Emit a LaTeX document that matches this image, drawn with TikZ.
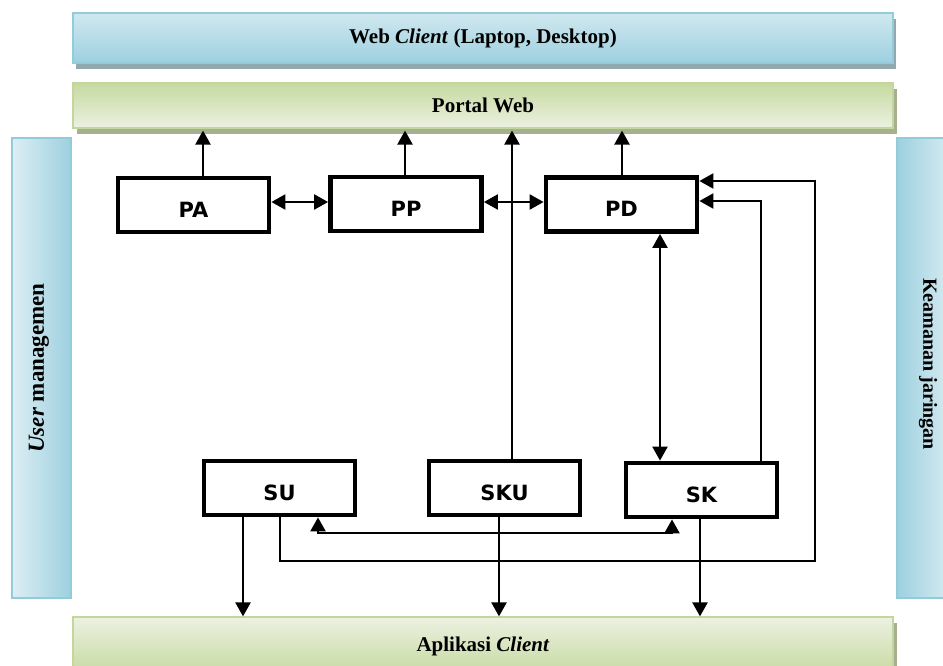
\documentclass[tikz,border=0pt]{standalone}
\usepackage{fontspec}
\setmainfont{Liberation Serif}
\newfontfamily\boxfont{DejaVu Sans}
\usetikzlibrary{arrows.meta,shadows,calc}

\definecolor{blueedge}{HTML}{93CBDB}
\definecolor{bluedark}{HTML}{9DD0DF}
\definecolor{bluelight}{HTML}{DDEEF4}
\definecolor{greenedge}{HTML}{C3D69B}
\definecolor{greendark}{HTML}{C6D9A0}
\definecolor{greenlight}{HTML}{ECF1E1}
\definecolor{shadowgray}{HTML}{A6B090}
\definecolor{shadowblue}{HTML}{92A8AF}

\tikzset{
  barfont/.style={font=\fontsize{21}{25}\selectfont\bfseries},
  bluebar/.style={draw=blueedge, line width=1.2pt, inner sep=0pt,
    top color=bluelight!80!bluedark, middle color=bluelight, bottom color=bluedark,
    drop shadow={shadow xshift=3pt, shadow yshift=-6pt, fill=shadowblue, opacity=1}},
  greenbar/.style={draw=greenedge, line width=1.2pt, inner sep=0pt,
    drop shadow={shadow xshift=4pt, shadow yshift=-6pt, fill=shadowgray, opacity=1}},
  sidebar/.style={draw=blueedge, line width=1.2pt, inner sep=0pt,
    minimum width=59pt, minimum height=460pt},
  procbox/.style={draw, line width=4.8pt, fill=white, minimum width=151pt,
    minimum height=54pt, inner sep=0pt, text height=24pt, text depth=0pt,
    font=\boxfont\fontsize{21}{24}\selectfont\bfseries},
  arr/.style={line width=2.3pt, -{Triangle[length=14pt,width=15pt]}},
  dbl/.style={line width=2.3pt, {Triangle[length=14pt,width=15pt]}-{Triangle[length=14pt,width=15pt]}},
}

\begin{document}
\begin{tikzpicture}[x=1pt,y=-1pt]
\useasboundingbox[fill=white] (0,0) rectangle (943,666);

% horizontal layers
\node[bluebar, minimum width=820pt, minimum height=50pt, barfont] (web) at (483,38)
  {Web \textit{Client} (Laptop, Desktop)};
\node[greenbar, top color=greendark, bottom color=greenlight,
  minimum width=820pt, minimum height=45pt, barfont] (portal) at (483,105.5)
  {Portal Web};
\node[greenbar, top color=greenlight, bottom color=greendark,
  minimum width=820pt, minimum height=58pt, barfont] (app) at (483,646)
  {Aplikasi \textit{Client}};

% vertical layers
\node[sidebar, left color=bluelight, right color=bluedark] (user) at (41.5,368) {};
\node[font=\fontsize{23}{27}\selectfont\bfseries, rotate=90] (userlbl) at (39,368)
  {\textit{User} managemen};
\node[sidebar, left color=bluedark, right color=bluelight] (sec) at (926.5,368) {};
\node[font=\fontsize{20}{24}\selectfont\bfseries, rotate=-90] (seclbl) at (928,364)
  {Keamanan jaringan};

% modules
\node[procbox] (PA)  at (193.5,205) {PA};
\node[procbox] (PP)  at (406,204)   {PP};
\node[procbox] (PD)  at (621.5,204.5) {PD};
\node[procbox] (SU)  at (279.5,488) {SU};
\node[procbox] (SKU) at (504.5,488) {SKU};
\node[procbox] (SK)  at (701.5,490) {SK};

\coordinate (pbase) at ([yshift=-2pt]portal.south);
\coordinate (loopcorner) at (815,561);

% up to the portal
\draw[arr] (PA.north -| 203,0)  -- (pbase -| 203,0);
\draw[arr] (PP.north -| 405,0)  -- (pbase -| 405,0);
\draw[arr] (PD.north -| 622,0)  -- (pbase -| 622,0);
\draw[arr] (SKU.north -| 512,0) -- (pbase -| 512,0);

% between modules
\draw[dbl] (PA.east |- 0,202) -- (PP.west |- 0,202);
\draw[dbl] (PP.east |- 0,202) -- (PD.west |- 0,202);
\draw[dbl] (PD.south -| 660,0) -- (SK.north -| 660,0);
\draw[arr] (SK.north -| 761,0) |- (PD.east |- 0,201);
\draw[arr] (SU.south -| 280,0) |- (loopcorner) |- (PD.east |- 0,181);
\draw[dbl] (SU.south -| 318,0) -- (318,533) -| (SK.south -| 672,0);

% down to the client application
\draw[arr] (SU.south -| 243,0)  -- (app.north -| 243,0);
\draw[arr] (SKU.south -| 499,0) -- (app.north -| 499,0);
\draw[arr] (SK.south -| 700,0)  -- (app.north -| 700,0);
\end{tikzpicture}
\end{document}
